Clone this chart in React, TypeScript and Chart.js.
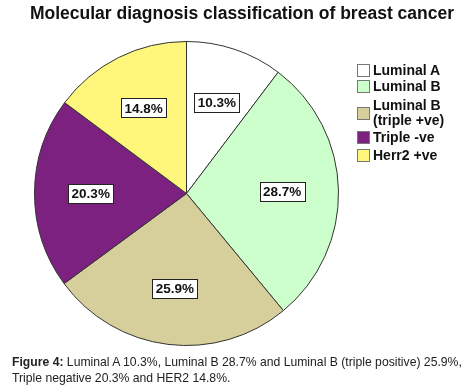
import React, { useEffect, useRef } from "react";
import { Chart, registerables } from "chart.js";

Chart.register(...registerables);

const categories = ["Luminal A", "Luminal B", "Luminal B\n(triple +ve)", "Triple -ve", "Herr2 +ve"];
const values = [10.3, 28.7, 25.9, 20.3, 14.8];
const colors = ["#ffffff", "#ccffcc", "#d6cf9c", "#7c2180", "#fff67c"];
const titleText = "Molecular diagnosis classification of breast cancer";
const captionBold = "Figure 4:";
const captionText =
  " Luminal A 10.3%, Luminal B 28.7% and Luminal B (triple positive) 25.9%, Triple negative 20.3% and HER2 14.8%.";

const FONT = "Arial, 'Liberation Sans', Helvetica, sans-serif";

const labelPlugin = {
  id: "sliceLabels",
  afterDatasetsDraw(chart: any) {
    const ctx = chart.ctx;
    const meta = chart.getDatasetMeta(0);
    ctx.save();
    ctx.font = `bold 13.5px ${FONT}`;
    ctx.textAlign = "center";
    ctx.textBaseline = "middle";
    meta.data.forEach((arc: any, i: number) => {
      const { x, y, startAngle, endAngle, outerRadius } = arc.getProps(
        ["x", "y", "startAngle", "endAngle", "outerRadius"],
        true
      );
      const mid = (startAngle + endAngle) / 2;
      const r = outerRadius * 0.63;
      const cx = x + Math.cos(mid) * r;
      const cy = y + Math.sin(mid) * r;
      const text = values[i].toFixed(1) + "%";
      const w = ctx.measureText(text).width + 7;
      const h = 19;
      ctx.fillStyle = "#ffffff";
      ctx.fillRect(Math.round(cx - w / 2) + 0.5, Math.round(cy - h / 2) + 0.5, Math.round(w), h);
      ctx.strokeStyle = "#222";
      ctx.lineWidth = 1;
      ctx.strokeRect(Math.round(cx - w / 2) + 0.5, Math.round(cy - h / 2) + 0.5, Math.round(w), h);
      ctx.fillStyle = "#111";
      ctx.fillText(text, cx, cy + 1);
    });
    ctx.restore();
  },
};

export default function App() {
  const ref = useRef<HTMLCanvasElement | null>(null);
  useEffect(() => {
    if (!ref.current) return;
    const chart = new Chart(ref.current, {
      type: "pie",
      data: {
        labels: categories,
        datasets: [
          {
            data: values,
            backgroundColor: colors,
            borderColor: "#333333",
            borderWidth: 1,
          },
        ],
      },
      options: {
        responsive: false,
        animation: false,
        layout: { padding: { left: 34, right: 135, top: 41, bottom: 46 } },
        plugins: {
          legend: { display: false },
          title: { display: false },
          tooltip: { enabled: false },
        },
      },
      plugins: [labelPlugin],
    });
    return () => chart.destroy();
  }, []);

  const legendRows = [
    { i: 0, top: 63 },
    { i: 1, top: 79 },
    { i: 2, top: 98 },
    { i: 3, top: 130 },
    { i: 4, top: 148 },
  ];

  return (
    <div
      style={{
        position: "fixed",
        left: 0,
        top: 0,
        width: 474,
        height: 392,
        background: "#fff",
        fontFamily: FONT,
        overflow: "hidden",
      }}
    >
      <canvas ref={ref} width={474} height={392} style={{ position: "absolute", left: 0, top: 0 }} />
      <div
        style={{
          position: "absolute",
          left: 0,
          width: 484,
          top: 3,
          textAlign: "center",
          fontWeight: "bold",
          fontSize: 17.5,
          color: "#111",
          whiteSpace: "nowrap",
        }}
      >
        {titleText}
      </div>
      {legendRows.map(({ i, top }) => (
        <div key={i} style={{ position: "absolute", left: 357, top, display: "flex", alignItems: "center" }}>
          <div
            style={{
              width: 11,
              height: 11,
              background: colors[i],
              border: "1px solid #777",
              marginRight: 3,
              flex: "none",
            }}
          />
          <div
            style={{
              fontWeight: "bold",
              fontSize: 14,
              lineHeight: "15px",
              color: "#111",
              whiteSpace: "pre",
            }}
          >
            {categories[i]}
          </div>
        </div>
      ))}
      <div
        style={{
          position: "absolute",
          left: 12,
          top: 354,
          width: 466,
          fontSize: 12.2,
          lineHeight: "16px",
          color: "#222",
        }}
      >
        <b>{captionBold}</b>
        {captionText}
      </div>
    </div>
  );
}
